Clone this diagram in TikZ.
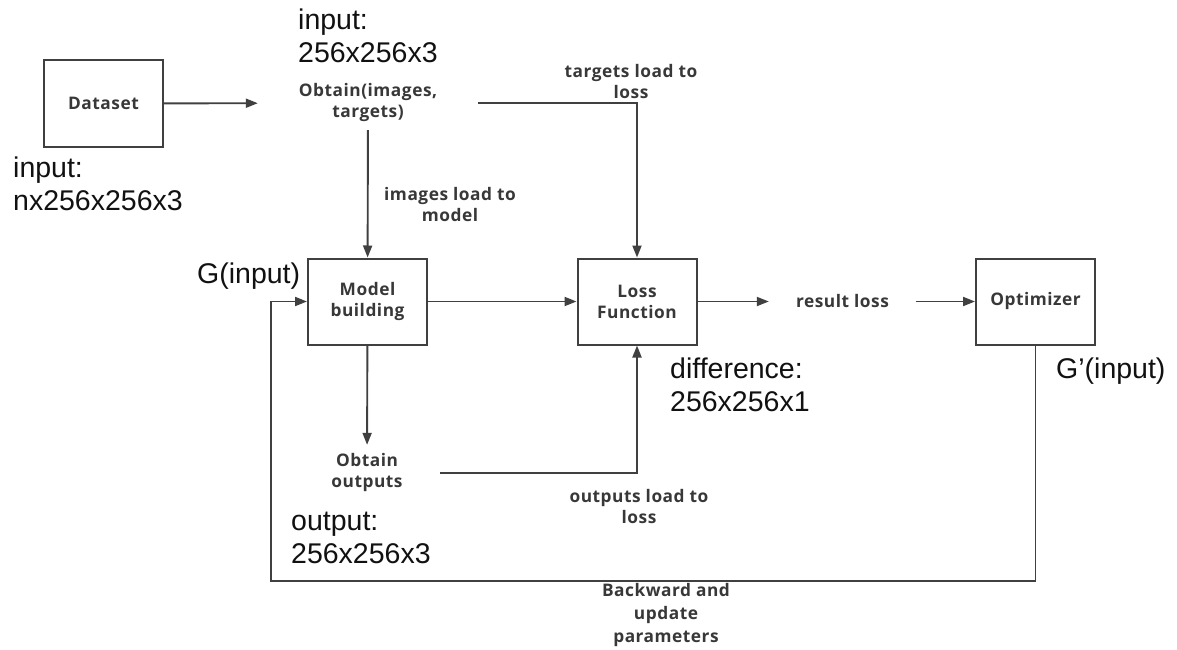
\documentclass[tikz,border=0pt]{standalone}
\usepackage{fontspec}
\setmainfont{Liberation Sans}
\newfontfamily\labfont{Open Sans}[LetterSpace=3]
\usetikzlibrary{arrows.meta}
\definecolor{linec}{HTML}{404040}
\definecolor{labc}{HTML}{383838}
\definecolor{bigc}{HTML}{111111}
\tikzset{
  box/.style={draw=linec, line width=2pt, minimum width=119pt, minimum height=86pt, inner sep=0pt,
    font=\labfont\bfseries\fontsize{17.3}{21}\selectfont, text=labc, align=center},
  lbl/.style={font=\labfont\bfseries\fontsize{17.3}{21}\selectfont, text=labc, align=center, inner sep=0pt},
  big/.style={font=\fontsize{28.5}{33}\selectfont, text=bigc, align=left, inner sep=0pt, anchor=base west},
  conn/.style={draw=linec, line width=1.9pt, -{Triangle[length=12pt,width=9pt]}}
}
\begin{document}
\begin{tikzpicture}[x=1pt,y=-1pt]
\path[use as bounding box, fill=white] (0,0) rectangle (1177,650);
% boxes
\node[box] (ds) at (103.5,103.5) {Dataset};
\node[box] (mb) at (367.5,301.5) {Model\\building};
\node[box] (lf) at (637,301.5) {Loss\\Function};
\node[box] (op) at (1035.5,301.5) {Optimizer};
% plain text nodes
\node[lbl, minimum width=220pt, minimum height=54pt] (obt) at (368,103) {Obtain(images,\\targets)};
\node[lbl, minimum width=146pt, minimum height=56pt] (oo) at (367,473) {Obtain\\outputs};
\node[lbl, minimum width=147pt, minimum height=30pt] (rl) at (842.5,301.5) {result loss};
% connector labels
\node[lbl] (tl) at (631,81.5) {targets load to\\loss};
\node[lbl] (il) at (450,204.5) {images load to\\model};
\node[lbl] (ol) at (639,507) {outputs load to\\loss};
\node[lbl, font=\labfont\bfseries\fontsize{17.3}{23}\selectfont] (bu) at (666,615) {Backward and\\update\\parameters};
% big labels (base = last line baseline)
\node[big] (in1) at (298,63) {input:\\256x256x3};
\node[big] (in2) at (13,210) {input:\\nx256x256x3};
\node[big] (gin) at (197,283) {G(input)};
\node[big] (dif) at (670,411) {difference:\\256x256x1};
\node[big] (gpin) at (1056,378) {G’(input)};
\node[big] (out) at (291,563) {output:\\256x256x3};
% connectors
\coordinate (bl) at (271,581);
\draw[conn] (ds) -- (obt);
\draw[conn] (obt.east) -| (lf.north);
\draw[conn] (obt) -- (mb);
\draw[conn] (mb) -- (lf);
\draw[conn] (mb) -- (oo);
\draw[conn] (oo.east) -| (lf.south);
\draw[conn] (lf) -- (rl);
\draw[conn] (rl) -- (op);
\draw[conn] (op.south) |- (bl) |- (mb.west);
\end{tikzpicture}
\end{document}
